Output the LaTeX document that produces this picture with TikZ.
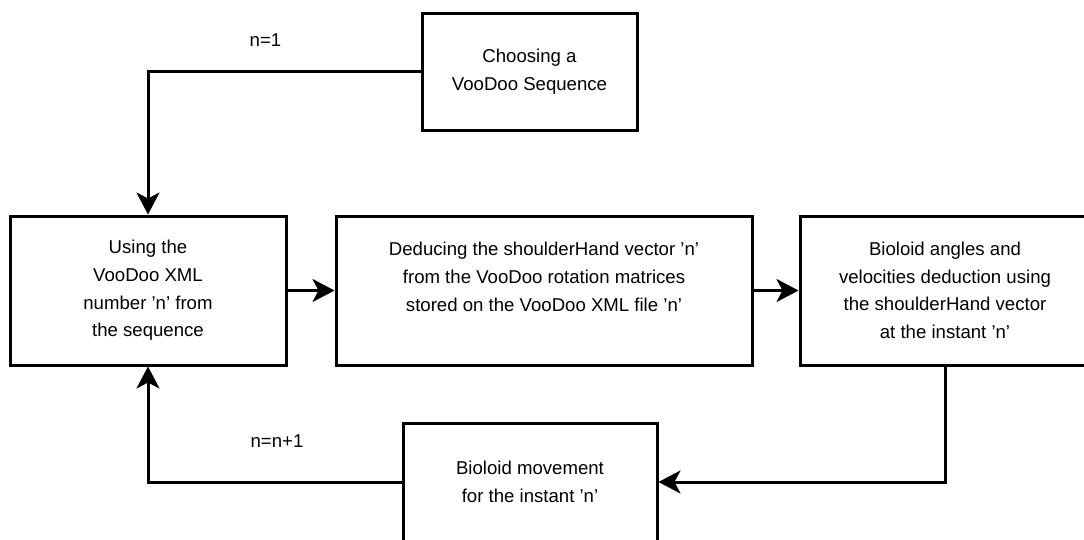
\documentclass[tikz,border=0pt]{standalone}
\usepackage{fontspec}
\setmainfont{Liberation Sans}
\usetikzlibrary{arrows.meta}

\begin{document}
\begin{tikzpicture}[x=1pt,y=-1pt,
    box/.style={draw,line width=3pt,align=center,inner sep=0pt,
	font=\fontsize{18.6}{27.6}\selectfont},
    tag/.style={inner sep=0pt,font=\fontsize{18.6}{27.6}\selectfont},
    flow/.style={line width=3pt,-{Stealth[length=22pt,width=23pt,inset=6pt]}},
    link/.style={line width=3pt}]
    \clip (0,0) rectangle (1084,539);
    \path (529.5, 71.5) node [box,minimum width=215pt,minimum height=117pt]
	(choose) {Choosing a\\VooDoo Sequence};
    \path (148, 290.5) node [box,minimum width=276pt,minimum height=149pt]
	(xmlfile) {Using the\\VooDoo XML\\number 'n' from\\the sequence};
    \path (544, 290.5) node [box,minimum width=416pt,minimum height=149pt]
	(vector) {Deducing the shoulderHand vector 'n'\\from the VooDoo rotation matrices\\stored on the VooDoo XML file 'n'\\~};
    \path (945, 290.5) node [box,minimum width=290pt,minimum height=149pt]
	(angles) {Bioloid angles and\\velocities deduction using\\the shoulderHand vector\\at the instant 'n'};
    \path (530, 482) node [box,minimum width=254pt,minimum height=118pt]
	(move) {Bioloid movement\\for the instant 'n'};
    \path (265.5, 40) node [tag] (first) {n=1};
    \path (277, 441) node [tag] (next) {n=n+1};
    \draw [flow] (choose.west) -| (xmlfile.north);
    \draw [flow] (xmlfile) -- (vector);
    \draw [flow] (vector) -- (angles);
    \draw [flow] (angles.south) |- (move.east);
    \draw [flow] (move.west) -| (xmlfile.south);
\end{tikzpicture}
\end{document}
